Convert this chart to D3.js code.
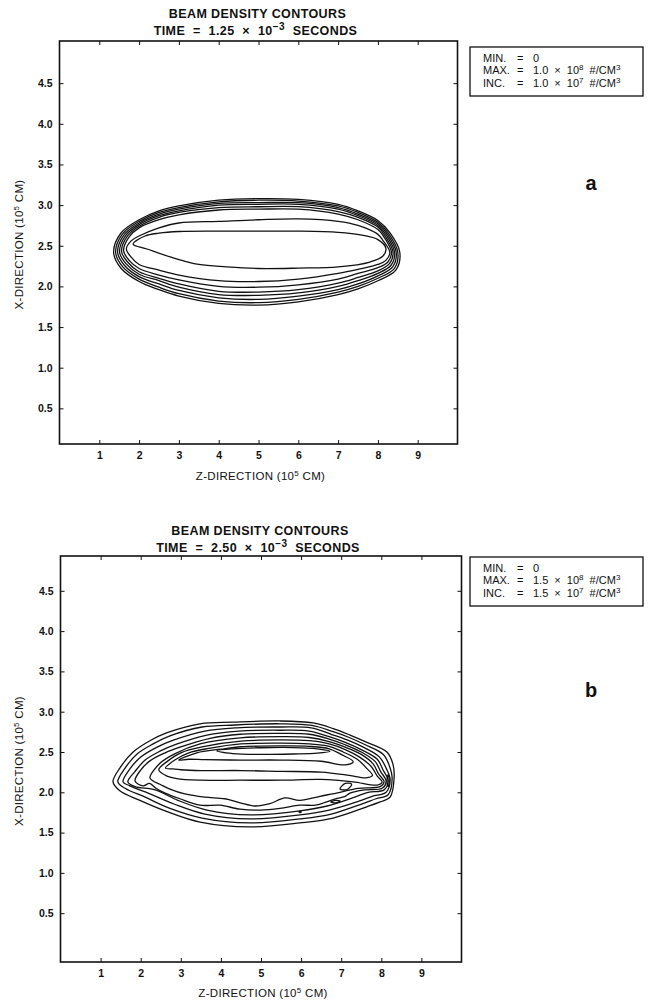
<!DOCTYPE html>
<html>
<head>
<meta charset="utf-8">
<script src="https://cdn.jsdelivr.net/npm/d3@7"></script>
<style>
  body { margin: 0; background: #fff; }
  svg { display: block; }
  text { font-family: "Liberation Sans", Arial, Helvetica, sans-serif; fill: #111; }
</style>
</head>
<body>
<svg id="chart" width="648" height="1000"></svg>
<script>
// ---- axis ticks (units of 10^5 cm) ----
const zTicks = [1, 2, 3, 4, 5, 6, 7, 8, 9];
const xTicks = [0.5, 1.0, 1.5, 2.0, 2.5, 3.0, 3.5, 4.0, 4.5];

// ---- titles and legend values ----
const timeA = { mant: "1.25", exp: "\u22123" };
const timeB = { mant: "2.50", exp: "\u22123" };
const legendA = [
  { label: "MIN.", mant: "0" },
  { label: "MAX.", mant: "1.0", exp: "8" },
  { label: "INC.", mant: "1.0", exp: "7" }
];
const legendB = [
  { label: "MIN.", mant: "0" },
  { label: "MAX.", mant: "1.5", exp: "8" },
  { label: "INC.", mant: "1.5", exp: "7" }
];

// ---- density contours at t = 1.25e-3 s, [z, x] in 10^5 cm, outermost first ----
const contourA1 = [[1.36,2.42],[1.55,2.66],[2.0,2.82],[2.5,2.93],[3.0,2.99],[4.0,3.06],[5.0,3.08],[6.0,3.07],[7.0,3.01],[7.5,2.93],[8.0,2.81],[8.3,2.66],[8.55,2.42],[8.45,2.20],[8.0,2.07],[7.5,1.97],[7.0,1.90],[6.0,1.81],[5.0,1.77],[4.0,1.79],[3.0,1.88],[2.5,1.96],[2.0,2.06],[1.55,2.22]];
const contourA2 = [[1.41,2.42],[1.59,2.65],[2.0,2.80],[2.5,2.91],[3.0,2.97],[4.0,3.04],[5.0,3.06],[6.0,3.05],[7.0,2.99],[7.5,2.91],[8.0,2.79],[8.27,2.65],[8.50,2.42],[8.41,2.22],[8.0,2.10],[7.5,2.00],[7.0,1.93],[6.0,1.84],[5.0,1.80],[4.0,1.82],[3.0,1.91],[2.5,1.99],[2.0,2.09],[1.59,2.24]];
const contourA3 = [[1.46,2.42],[1.63,2.64],[2.0,2.78],[2.5,2.89],[3.0,2.95],[4.0,3.02],[5.0,3.03],[6.0,3.03],[7.0,2.97],[7.5,2.89],[8.0,2.77],[8.24,2.64],[8.46,2.42],[8.37,2.24],[8.0,2.13],[7.5,2.03],[7.0,1.96],[6.0,1.88],[5.0,1.84],[4.0,1.86],[3.0,1.95],[2.5,2.03],[2.0,2.12],[1.63,2.26]];
const contourA4 = [[1.51,2.42],[1.67,2.63],[2.0,2.76],[2.5,2.87],[3.0,2.93],[4.0,3.00],[5.0,3.01],[6.0,3.01],[7.0,2.95],[7.5,2.87],[8.0,2.75],[8.21,2.63],[8.42,2.42],[8.33,2.26],[8.0,2.16],[7.5,2.07],[7.0,2.00],[6.0,1.92],[5.0,1.89],[4.0,1.90],[3.0,1.99],[2.5,2.07],[2.0,2.15],[1.67,2.28]];
const contourA5 = [[1.56,2.43],[1.71,2.62],[2.0,2.74],[2.5,2.85],[3.0,2.91],[4.0,2.97],[5.0,2.98],[6.0,2.98],[7.0,2.92],[7.5,2.85],[8.0,2.73],[8.18,2.62],[8.38,2.42],[8.29,2.28],[8.0,2.19],[7.5,2.11],[7.0,2.04],[6.0,1.96],[5.0,1.93],[4.0,1.94],[3.0,2.03],[2.5,2.10],[2.0,2.18],[1.71,2.30]];
const contourA6 = [[1.61,2.44],[1.75,2.61],[2.0,2.72],[2.5,2.82],[3.0,2.88],[4.0,2.94],[5.0,2.95],[6.0,2.95],[7.0,2.89],[7.5,2.82],[8.0,2.70],[8.15,2.61],[8.34,2.42],[8.25,2.30],[8.0,2.23],[7.5,2.16],[7.0,2.09],[6.0,2.02],[5.0,1.99],[4.0,2.00],[3.0,2.08],[2.5,2.14],[2.0,2.22],[1.75,2.32]];
const contourA7 = [[1.68,2.46],[1.8,2.56],[2.0,2.62],[2.5,2.72],[3.0,2.78],[4.0,2.80],[5.0,2.82],[6.0,2.83],[7.0,2.80],[7.5,2.75],[8.0,2.64],[8.12,2.57],[8.30,2.42],[8.2,2.32],[8.0,2.27],[7.5,2.21],[7.0,2.16],[6.0,2.09],[5.0,2.06],[4.0,2.07],[3.0,2.14],[2.5,2.20],[2.0,2.27],[1.8,2.36]];
const contourA8 = [[1.85,2.52],[2.15,2.62],[2.5,2.655],[3.0,2.675],[4.0,2.68],[5.0,2.68],[6.0,2.68],[7.0,2.665],[7.6,2.63],[8.0,2.575],[8.2,2.47],[8.12,2.37],[7.8,2.30],[7.0,2.24],[6.0,2.225],[5.0,2.22],[4.2,2.24],[3.5,2.27],[2.8,2.36],[2.2,2.46]];
const contoursA = [contourA1, contourA2, contourA3, contourA4, contourA5, contourA6, contourA7, contourA8];

// ---- density contours at t = 2.50e-3 s ----
const contourB1 = [[1.31,2.13],[1.48,2.30],[1.81,2.50],[2.23,2.64],[2.66,2.74],[3.48,2.85],[4.30,2.87],[5.47,2.885],[6.30,2.86],[6.80,2.79],[7.22,2.71],[7.64,2.62],[8.14,2.50],[8.29,2.35],[8.32,2.18],[8.22,1.94],[7.97,1.88],[7.64,1.82],[6.80,1.68],[5.97,1.62],[4.73,1.57],[3.48,1.63],[2.66,1.76],[1.98,1.90],[1.48,2.02]];
const contourB2 = [[1.43,2.13],[1.61,2.30],[1.91,2.475],[2.31,2.60],[2.73,2.70],[3.53,2.81],[4.35,2.835],[5.47,2.85],[6.27,2.83],[6.78,2.755],[7.20,2.68],[7.60,2.59],[8.05,2.47],[8.20,2.33],[8.27,2.17],[8.17,1.97],[7.87,1.92],[7.54,1.86],[6.75,1.73],[5.97,1.67],[4.73,1.62],[3.53,1.68],[2.73,1.80],[2.11,1.94],[1.61,2.05]];
const contourB3 = [[1.56,2.13],[1.73,2.29],[2.01,2.44],[2.41,2.56],[2.83,2.65],[3.60,2.76],[4.40,2.80],[5.47,2.81],[6.25,2.80],[6.75,2.72],[7.15,2.65],[7.55,2.56],[7.95,2.44],[8.12,2.30],[8.22,2.16],[8.12,2.00],[7.77,1.95],[7.44,1.89],[6.70,1.78],[5.97,1.72],[4.73,1.67],[3.60,1.73],[2.83,1.855],[2.23,1.98],[1.73,2.08]];
const contourB4 = [[1.68,2.13],[1.86,2.26],[2.11,2.40],[2.48,2.51],[2.91,2.60],[3.65,2.71],[4.45,2.76],[5.47,2.77],[6.20,2.76],[6.70,2.69],[7.10,2.62],[7.50,2.53],[7.90,2.41],[8.04,2.28],[8.17,2.15],[8.07,2.03],[7.67,2.00],[7.34,1.94],[6.65,1.83],[5.97,1.77],[4.73,1.72],[3.65,1.78],[2.93,1.90],[2.36,2.03],[1.86,2.07]];
const contourB5 = [[1.86,2.14],[1.99,2.27],[2.23,2.39],[2.61,2.49],[2.98,2.56],[3.73,2.67],[4.48,2.72],[5.47,2.73],[6.20,2.72],[6.70,2.66],[7.10,2.59],[7.50,2.50],[7.85,2.38],[7.98,2.26],[8.12,2.14],[8.02,2.05],[7.59,2.03],[7.22,1.99],[7.10,1.95],[6.90,1.925],[6.60,1.875],[6.35,1.84],[5.97,1.84],[5.47,1.80],[4.98,1.78],[4.48,1.79],[3.98,1.84],[3.48,1.84],[2.98,1.92],[2.61,1.99],[2.38,2.05],[2.22,2.11],[2.06,2.08]];
const contourB6 = [[2.23,2.18],[2.48,2.36],[2.86,2.48],[3.48,2.60],[4.48,2.675],[5.47,2.69],[6.20,2.68],[6.70,2.63],[7.10,2.56],[7.50,2.47],[7.80,2.35],[7.93,2.23],[8.07,2.13],[7.97,2.07],[7.42,2.05],[6.97,2.00],[6.47,1.95],[5.97,1.90],[5.60,1.93],[5.22,1.86],[4.85,1.83],[4.48,1.87],[4.10,1.92],[3.60,1.94],[3.10,1.98],[2.73,2.04],[2.48,2.10],[2.31,2.14]];
const contourB7 = [[2.45,2.28],[2.68,2.39],[3.0,2.49],[3.6,2.57],[4.5,2.635],[5.5,2.65],[6.2,2.64],[6.7,2.60],[7.1,2.53],[7.45,2.44],[7.75,2.32],[7.90,2.20],[8.02,2.13],[7.90,2.09],[7.3,2.13],[6.5,2.16],[5.5,2.15],[4.5,2.15],[3.5,2.15],[2.9,2.17],[2.62,2.21]];
const contourB8 = [[2.62,2.30],[2.85,2.40],[3.2,2.49],[3.7,2.545],[4.5,2.60],[5.5,2.61],[6.2,2.60],[6.7,2.57],[7.05,2.50],[7.4,2.41],[7.65,2.29],[7.78,2.21],[7.62,2.18],[7.2,2.21],[6.5,2.25],[5.5,2.26],[4.5,2.27],[3.5,2.27],[3.0,2.28],[2.8,2.29]];
const contourB9 = [[2.95,2.40],[3.4,2.49],[4.0,2.535],[4.5,2.565],[5.5,2.575],[6.2,2.57],[6.7,2.54],[7.0,2.47],[7.3,2.38],[7.1,2.34],[6.5,2.385],[5.5,2.40],[4.5,2.40],[3.6,2.405],[3.2,2.41]];
const contourB10 = [[3.90,2.515],[4.3,2.54],[5.0,2.553],[5.8,2.555],[6.4,2.54],[6.72,2.51],[6.4,2.485],[5.8,2.475],[5.0,2.47],[4.3,2.48]];
const islandB1 = [[6.97,2.04],[7.10,2.11],[7.26,2.10],[7.15,2.035]];
const islandB2 = [[6.74,1.88],[6.86,1.90],[6.98,1.89],[6.86,1.868]];
const islandB3 = [[5.95,1.757],[5.975,1.766],[6.0,1.757],[5.975,1.748]];
const islandB4 = [[8.14,2.14],[8.17,2.22],[8.20,2.14],[8.17,2.07]];
const contoursB = [contourB1, contourB2, contourB3, contourB4, contourB5, contourB6, contourB7, contourB8, contourB9, contourB10, islandB1, islandB2, islandB3, islandB4];

// ---- layout of the two stacked panels ----
const panels = [
  { rings: contoursA, time: timeA, legend: legendA, tag: "a",
    left: 59.5, right: 457.5, top: 41, bottom: 444, yZero: 449, yFive: 42.5,
    titleY: 18, legendTop: 47, tagY: 190, zLabelY: 480 },
  { rings: contoursB, time: timeB, legend: legendB, tag: "b",
    left: 60.5, right: 461.5, top: 556, bottom: 962, yZero: 953.5, yFive: 550.5,
    titleY: 535, legendTop: 557, tagY: 697, zLabelY: 997 }
];

const svg = d3.select("#chart");
const ink = "#111";

function drawPanel(p) {
  const xs = d3.scaleLinear().domain([0, 10]).range([p.left, p.right]);
  const ys = d3.scaleLinear().domain([0, 5]).range([p.yZero, p.yFive]);
  const g = svg.append("g");
  const cx = (p.left + p.right) / 2;

  // title
  g.append("text").attr("x", cx - 1).attr("y", p.titleY).attr("text-anchor", "middle")
    .attr("font-size", 12.5).attr("font-weight", "bold").attr("letter-spacing", 0.4)
    .text("BEAM DENSITY CONTOURS");
  const t2 = g.append("text").attr("x", cx - 3).attr("y", p.titleY + 17).attr("text-anchor", "middle")
    .attr("font-size", 12.5).attr("font-weight", "bold").attr("letter-spacing", 0.4).attr("word-spacing", 4);
  t2.append("tspan").text(`TIME = ${p.time.mant} \u00d7 10`);
  t2.append("tspan").attr("dy", -5).attr("font-size", 10).text(p.time.exp);
  t2.append("tspan").attr("dy", 5).text(" SECONDS");

  // contour lines
  const line = d3.line()
    .x(d => xs(d[0])).y(d => ys(d[1]))
    .curve(d3.curveCatmullRomClosed.alpha(0.5));
  g.append("g").selectAll("path").data(p.rings).join("path")
    .attr("d", line).attr("fill", "none").attr("stroke", ink)
    .attr("stroke-width", 1.3).attr("stroke-linejoin", "round");

  // axes with inward ticks on all four sides
  const tickStyle = sel => {
    sel.select(".domain").remove();
    sel.selectAll(".tick line").attr("stroke", ink).attr("stroke-width", 1);
    sel.selectAll(".tick text").attr("fill", ink).attr("font-size", 10.5)
      .attr("font-weight", "bold").attr("font-family", "Liberation Sans, Arial, sans-serif");
  };
  g.append("g").attr("transform", `translate(0,${p.bottom})`)
    .call(d3.axisBottom(xs).tickValues(zTicks).tickSize(-4).tickPadding(8).tickFormat(d3.format("d")))
    .call(tickStyle);
  g.append("g").attr("transform", `translate(0,${p.top})`)
    .call(d3.axisTop(xs).tickValues(zTicks).tickSize(-4).tickFormat(""))
    .call(tickStyle);
  g.append("g").attr("transform", `translate(${p.left},0)`)
    .call(d3.axisLeft(ys).tickValues(xTicks).tickSize(-4).tickPadding(7).tickFormat(d3.format(".1f")))
    .call(tickStyle);
  g.append("g").attr("transform", `translate(${p.right},0)`)
    .call(d3.axisRight(ys).tickValues(xTicks).tickSize(-4).tickFormat(""))
    .call(tickStyle);

  // frame
  g.append("rect").attr("x", p.left).attr("y", p.top)
    .attr("width", p.right - p.left).attr("height", p.bottom - p.top)
    .attr("fill", "none").attr("stroke", ink).attr("stroke-width", 1.6);

  // axis titles
  const zl = g.append("text").attr("x", cx + 2).attr("y", p.zLabelY).attr("text-anchor", "middle")
    .attr("font-size", 11.5).attr("letter-spacing", 0.3);
  zl.append("tspan").text("Z-DIRECTION (10");
  zl.append("tspan").attr("dy", -4.5).attr("font-size", 8).text("5");
  zl.append("tspan").attr("dy", 4.5).text(" CM)");
  const ymid = (p.top + p.bottom) / 2;
  const xl = g.append("text").attr("transform", `translate(23,${ymid + 2}) rotate(-90)`)
    .attr("text-anchor", "middle").attr("font-size", 11.5).attr("letter-spacing", 0.3);
  xl.append("tspan").text("X-DIRECTION (10");
  xl.append("tspan").attr("dy", -4.5).attr("font-size", 8).text("5");
  xl.append("tspan").attr("dy", 4.5).text(" CM)");

  // legend box
  const lx = 470, lw = 173, lh = 49;
  g.append("rect").attr("x", lx).attr("y", p.legendTop).attr("width", lw).attr("height", lh)
    .attr("fill", "none").attr("stroke", ink).attr("stroke-width", 1.3);
  p.legend.forEach((row, i) => {
    const y = p.legendTop + 14.5 + i * 12.5;
    g.append("text").attr("x", lx + 13).attr("y", y).attr("font-size", 11).text(row.label);
    g.append("text").attr("x", lx + 47).attr("y", y).attr("font-size", 11).text("=");
    const v = g.append("text").attr("x", lx + 63).attr("y", y).attr("font-size", 11).attr("word-spacing", 3);
    if (row.exp) {
      v.append("tspan").text(`${row.mant} \u00d7 10`);
      v.append("tspan").attr("dy", -4).attr("font-size", 8).text(row.exp);
      v.append("tspan").attr("dy", 4).text(" #/CM");
      v.append("tspan").attr("dy", -4).attr("font-size", 8).text("3");
    } else {
      v.text(row.mant);
    }
  });

  // panel tag
  g.append("text").attr("x", 591).attr("y", p.tagY).attr("text-anchor", "middle")
    .attr("font-family", "Liberation Serif, serif").attr("font-weight", "bold")
    .attr("font-size", 20).text(p.tag);
}

panels.forEach(drawPanel);
</script>
</body>
</html>
